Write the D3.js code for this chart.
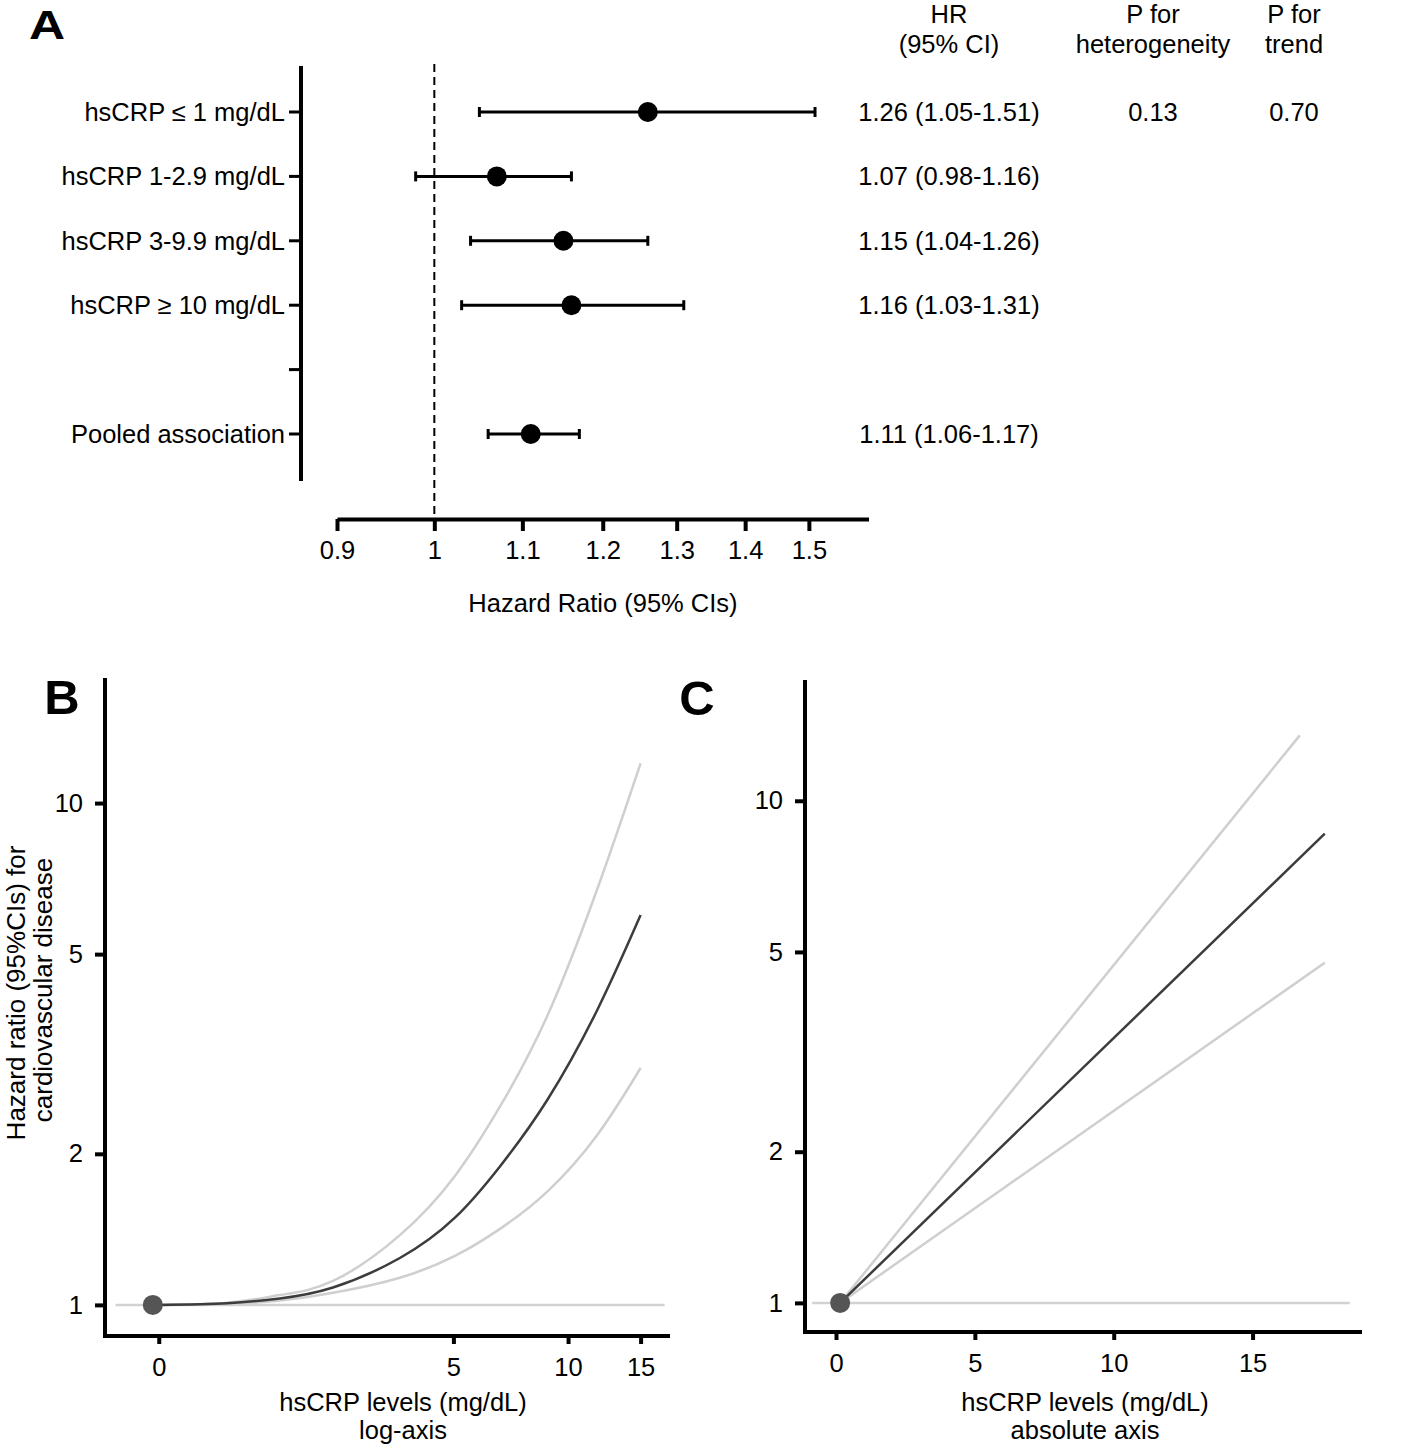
<!DOCTYPE html>
<html><head><meta charset="utf-8">
<script src="https://cdn.jsdelivr.net/npm/d3@7"></script>
<style>
body{margin:0;background:#fff}
svg{display:block}
text{font-family:"Liberation Sans",Arial,Helvetica,sans-serif;fill:#000}
</style>
</head><body>
<svg id="c" width="1416" height="1444"></svg>
<script>
// ---------- Panel A data ----------
const groups = ["hsCRP \u2264 1 mg/dL","hsCRP 1-2.9 mg/dL","hsCRP 3-9.9 mg/dL","hsCRP \u2265 10 mg/dL","","Pooled association"];
const hrA  = [1.26, 1.07, 1.15, 1.16, null, 1.11];
const loA  = [1.05, 0.98, 1.04, 1.03, null, 1.06];
const hiA  = [1.51, 1.16, 1.26, 1.31, null, 1.17];
const hrText = ["1.26 (1.05-1.51)","1.07 (0.98-1.16)","1.15 (1.04-1.26)","1.16 (1.03-1.31)","","1.11 (1.06-1.17)"];
const pHet = ["0.13"];
const pTrend = ["0.70"];
const aTicks = [0.9, 1, 1.1, 1.2, 1.3, 1.4, 1.5];
const aDomain = [0.9, 1.6];

// ---------- Panel B data (log x-axis) ----------
const bX      = [0, 0.61, 1.24, 2.07, 3.48, 5.05, 6.71, 8.87, 11.8, 15];
const bCenter = [1.00, 1.008, 1.030, 1.083, 1.240, 1.492, 1.892, 2.560, 3.870, 5.98];
const bUpper  = [1.00, 1.010, 1.046, 1.116, 1.377, 1.807, 2.491, 3.765, 6.740, 12.0];
const bLower  = [1.00, 1.005, 1.020, 1.057, 1.133, 1.252, 1.419, 1.682, 2.181, 2.965];
const bRefX   = [-0.36, 17.1];
const bDot    = {x: -0.045, y: 1};
const bXTicks = [0, 5, 10, 15];
const yTicks  = [1, 2, 5, 10];

// ---------- Panel C data (absolute x-axis) ----------
const cCenterX = [0.15, 17.6], cCenter = [1, 8.6];
const cUpperX  = [0.15, 16.7], cUpper  = [1, 13.5];
const cLowerX  = [0.15, 17.6], cLower  = [1, 4.76];
const cRefX    = [-0.86, 18.5];
const cDot     = {x: 0.15, y: 1};
const cXTicks  = [0, 5, 10, 15];

const svg = d3.select("#c");
svg.append("rect").attr("width",1416).attr("height",1444).attr("fill","#fff");
const FS = 25.5;

// ================= PANEL A =================
const gA = svg.append("g");
const xA = d3.scaleLog().domain(aDomain).range([337, 868.5]);
const yA = d3.scalePoint().domain(d3.range(groups.length)).range([112, 434]);

gA.append("text").attr("transform","translate(29,39) scale(1.22,1)")
  .attr("font-size",41).attr("font-weight","bold").text("A");

// left axis
gA.append("line").attr("x1",301).attr("x2",301).attr("y1",66).attr("y2",481)
  .attr("stroke","#000").attr("stroke-width",4);
groups.forEach((g,i)=>{
  gA.append("line").attr("x1",289).attr("x2",301).attr("y1",yA(i)).attr("y2",yA(i))
    .attr("stroke","#000").attr("stroke-width",3);
  if(g) gA.append("text").attr("x",285).attr("y",yA(i)).attr("dy","0.35em")
    .attr("text-anchor","end").attr("font-size",FS).text(g);
});

// dashed reference
gA.append("line").attr("x1",xA(1)).attr("x2",xA(1)).attr("y1",64).attr("y2",519)
  .attr("stroke","#000").attr("stroke-width",2).attr("stroke-dasharray","8,5");

// x axis
const axA = gA.append("g").attr("transform","translate(0,519)")
  .call(d3.axisBottom(xA).tickValues(aTicks).tickFormat(d=>String(d)).tickSize(12).tickSizeOuter(0));
axA.select(".domain").attr("stroke","#000").attr("stroke-width",4);
axA.selectAll(".tick line").attr("stroke","#000").attr("stroke-width",4);
axA.selectAll(".tick text").attr("font-size",FS).attr("font-family",null).attr("y",22).attr("fill","#000");
gA.append("text").attr("x",603).attr("y",603).attr("dy","0.35em").attr("text-anchor","middle")
  .attr("font-size",FS).text("Hazard Ratio (95% CIs)");

// CIs and dots
groups.forEach((g,i)=>{
  if(hrA[i]==null) return;
  const y = yA(i);
  gA.append("line").attr("x1",xA(loA[i])).attr("x2",xA(hiA[i])).attr("y1",y).attr("y2",y)
    .attr("stroke","#000").attr("stroke-width",3);
  [loA[i],hiA[i]].forEach(v=>{
    gA.append("line").attr("x1",xA(v)).attr("x2",xA(v)).attr("y1",y-5).attr("y2",y+5)
      .attr("stroke","#000").attr("stroke-width",3);
  });
  gA.append("circle").attr("cx",xA(hrA[i])).attr("cy",y).attr("r",10).attr("fill","#000");
  gA.append("text").attr("x",949).attr("y",y).attr("dy","0.35em").attr("text-anchor","middle")
    .attr("font-size",FS).text(hrText[i]);
});
// headers
[["HR","(95% CI)",949],["P for","heterogeneity",1153],["P for","trend",1294]].forEach(h=>{
  gA.append("text").attr("x",h[2]).attr("y",14).attr("dy","0.35em").attr("text-anchor","middle").attr("font-size",FS).text(h[0]);
  gA.append("text").attr("x",h[2]).attr("y",44).attr("dy","0.35em").attr("text-anchor","middle").attr("font-size",FS).text(h[1]);
});
gA.append("text").attr("x",1153).attr("y",yA(0)).attr("dy","0.35em").attr("text-anchor","middle").attr("font-size",FS).text(pHet[0]);
gA.append("text").attr("x",1294).attr("y",yA(0)).attr("dy","0.35em").attr("text-anchor","middle").attr("font-size",FS).text(pTrend[0]);

// ================= helper for B / C =================
function drawPanel(g, x, y, xTicks, xLeft, xRight, yTop, yBottom){
  const ax = g.append("g").attr("transform",`translate(0,${yBottom})`)
    .call(d3.axisBottom(x).tickValues(xTicks).tickFormat(d=>String(d)).tickSize(8).tickSizeOuter(0));
  ax.select(".domain").remove();
  ax.selectAll(".tick line").attr("stroke","#000").attr("stroke-width",4);
  ax.selectAll(".tick text").attr("font-size",FS).attr("font-family",null).attr("y",22).attr("fill","#000");
  const ay = g.append("g").attr("transform",`translate(${xLeft},0)`)
    .call(d3.axisLeft(y).tickValues(yTicks).tickFormat(d=>String(d)).tickSize(10).tickSizeOuter(0));
  ay.select(".domain").remove();
  ay.selectAll(".tick line").attr("stroke","#000").attr("stroke-width",4);
  ay.selectAll(".tick text").attr("font-size",FS).attr("font-family",null).attr("x",-22).attr("fill","#000");
  g.append("line").attr("x1",xLeft).attr("x2",xLeft).attr("y1",yTop).attr("y2",yBottom+2)
    .attr("stroke","#000").attr("stroke-width",4);
  g.append("line").attr("x1",xLeft-2).attr("x2",xRight).attr("y1",yBottom).attr("y2",yBottom)
    .attr("stroke","#000").attr("stroke-width",4);
}

// ================= PANEL B =================
const gB = svg.append("g");
const xB = d3.scaleSymlog().constant(1.5).domain([-0.46, 17.6]).range([105, 670]);
const yB = d3.scaleLog().domain([0.867, 17.75]).range([1336, 678]);
gB.append("text").attr("x",62).attr("y",696).attr("dy","0.36em").attr("text-anchor","middle")
  .attr("font-size",49).attr("font-weight","bold").text("B");
const lineB = d3.line().x(d=>xB(d[0])).y(d=>yB(d[1])).curve(d3.curveNatural);
gB.append("path").attr("d",lineB(bRefX.map(v=>[v,1]))).attr("stroke","#d2d2d2").attr("stroke-width",2.5).attr("fill","none");
gB.append("path").attr("d",lineB(bX.map((v,i)=>[v,bUpper[i]]))).attr("stroke","#cfcfcf").attr("stroke-width",2.5).attr("fill","none");
gB.append("path").attr("d",lineB(bX.map((v,i)=>[v,bLower[i]]))).attr("stroke","#cfcfcf").attr("stroke-width",2.5).attr("fill","none");
gB.append("path").attr("d",lineB(bX.map((v,i)=>[v,bCenter[i]]))).attr("stroke","#3c3c3c").attr("stroke-width",2.5).attr("fill","none");
gB.append("circle").attr("cx",xB(bDot.x)).attr("cy",yB(bDot.y)).attr("r",10).attr("fill","#555");
drawPanel(gB, xB, yB, bXTicks, 105, 670, 678, 1336);
gB.append("text").attr("x",403).attr("y",1402).attr("dy","0.35em").attr("text-anchor","middle").attr("font-size",FS).text("hsCRP levels (mg/dL)");
gB.append("text").attr("x",403).attr("y",1430).attr("dy","0.35em").attr("text-anchor","middle").attr("font-size",FS).text("log-axis");
gB.append("text").attr("transform","translate(16,993) rotate(-90)").attr("dy","0.35em").attr("text-anchor","middle").attr("font-size",26).text("Hazard ratio (95%CIs) for");
gB.append("text").attr("transform","translate(43,990) rotate(-90)").attr("dy","0.35em").attr("text-anchor","middle").attr("font-size",26).text("cardiovascular disease");

// ================= PANEL C =================
const gC = svg.append("g");
const xC = d3.scaleLinear().domain([-1.116, 18.94]).range([805, 1362]);
const yC = d3.scaleLog().domain([0.875, 17.4]).range([1332, 680]);
gC.append("text").attr("x",697).attr("y",697).attr("dy","0.36em").attr("text-anchor","middle")
  .attr("font-size",49).attr("font-weight","bold").text("C");
const lineC = d3.line().x(d=>xC(d[0])).y(d=>yC(d[1]));
gC.append("path").attr("d",lineC(cRefX.map(v=>[v,1]))).attr("stroke","#d2d2d2").attr("stroke-width",2.5).attr("fill","none");
gC.append("path").attr("d",lineC(cUpperX.map((v,i)=>[v,cUpper[i]]))).attr("stroke","#cfcfcf").attr("stroke-width",2.5).attr("fill","none");
gC.append("path").attr("d",lineC(cLowerX.map((v,i)=>[v,cLower[i]]))).attr("stroke","#cfcfcf").attr("stroke-width",2.5).attr("fill","none");
gC.append("path").attr("d",lineC(cCenterX.map((v,i)=>[v,cCenter[i]]))).attr("stroke","#3c3c3c").attr("stroke-width",2.5).attr("fill","none");
gC.append("circle").attr("cx",xC(cDot.x)).attr("cy",yC(cDot.y)).attr("r",10).attr("fill","#555");
drawPanel(gC, xC, yC, cXTicks, 805, 1362, 680, 1332);
gC.append("text").attr("x",1085).attr("y",1402).attr("dy","0.35em").attr("text-anchor","middle").attr("font-size",FS).text("hsCRP levels (mg/dL)");
gC.append("text").attr("x",1085).attr("y",1430).attr("dy","0.35em").attr("text-anchor","middle").attr("font-size",FS).text("absolute axis");
</script>
</body></html>
